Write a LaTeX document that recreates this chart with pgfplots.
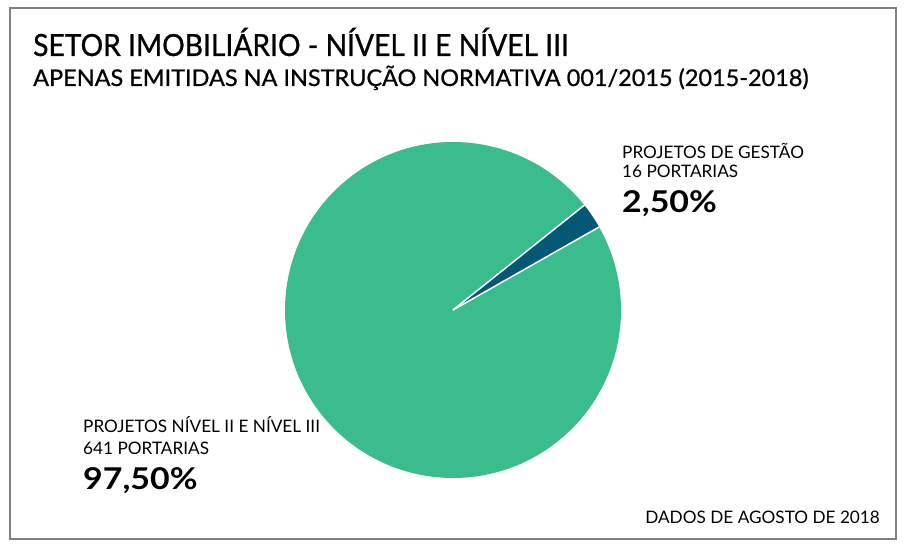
\documentclass[border=0pt]{standalone}
\usepackage{pgfplots}
\usepackage{pgfplotstable}
\pgfplotsset{compat=1.18}
\usepackage{fontspec}
\setmainfont{Lato}
\newfontfamily\titlefont[FakeStretch=0.925, FakeBold=0.8]{Lato}
\newfontfamily\subfont[FakeStretch=1.02, FakeBold=0.8]{Lato}
\newfontfamily\pctfont[FakeStretch=1.13]{Lato Bold}
\definecolor{pgreen}{RGB}{59,188,140}
\definecolor{pteal}{RGB}{4,88,118}
\definecolor{frame}{RGB}{128,128,128}
\pgfplotstableread{
label value
gestao 2.5
nivel 97.5
}\piedata
\pgfplotstablegetelem{0}{value}\of\piedata \let\valA\pgfplotsretval
\pgfplotstablegetelem{1}{value}\of\piedata \let\valB\pgfplotsretval
\begin{document}
\begin{tikzpicture}
\begin{axis}[width=905bp, height=548bp, scale only axis,
  xmin=0, xmax=905, ymin=0, ymax=548, axis lines=none, clip=false]
\fill[white] (axis cs:0,0) rectangle (axis cs:905,548);
\draw[frame, line width=2bp] (axis cs:10,9) rectangle (axis cs:896,540);
\pgfmathsetmacro\sA{29.6}
\pgfmathsetmacro\eA{\sA+3.6*\valA}
\pgfmathsetmacro\eB{\eA+3.6*\valB}
\fill[pteal] (axis cs:453,238) -- ++(\sA:168bp) arc[start angle=\sA, end angle=\eA, radius=168bp] -- cycle;
\fill[pgreen] (axis cs:453,238) -- ++(\eA:168bp) arc[start angle=\eA, end angle=\eB, radius=168bp] -- cycle;
\draw[white, line width=1.5bp] (axis cs:453,238) -- ++(\sA:169bp);
\draw[white, line width=1.5bp] (axis cs:453,238) -- ++(\eA:169bp);
\node[anchor=base west, inner sep=0pt] at (axis cs:33,492) {\titlefont\fontsize{30.5bp}{36bp}\selectfont SETOR IMOBILIÁRIO - NÍVEL II E NÍVEL III};
\node[anchor=base west, inner sep=0pt] at (axis cs:33,462) {\subfont\fontsize{23bp}{28bp}\selectfont APENAS EMITIDAS NA INSTRUÇÃO NORMATIVA 001/2015 (2015-2018)};
\node[anchor=base west, inner sep=0pt] at (axis cs:622,389) {\fontsize{17.2bp}{20bp}\selectfont PROJETOS DE GESTÃO};
\node[anchor=base west, inner sep=0pt] at (axis cs:622,370) {\fontsize{17.2bp}{20bp}\selectfont 16 PORTARIAS};
\node[anchor=base west, inner sep=0pt] at (axis cs:622,335) {\pctfont\fontsize{30bp}{34bp}\selectfont 2,50\%};
\node[anchor=base west, inner sep=0pt] at (axis cs:83,115) {\fontsize{17.2bp}{20bp}\selectfont PROJETOS NÍVEL II E NÍVEL III};
\node[anchor=base west, inner sep=0pt] at (axis cs:83,93) {\fontsize{17.2bp}{20bp}\selectfont 641 PORTARIAS};
\node[anchor=base west, inner sep=0pt] at (axis cs:83,58) {\pctfont\fontsize{30bp}{34bp}\selectfont 97,50\%};
\node[anchor=base east, inner sep=0pt] at (axis cs:880,25) {\fontsize{17.2bp}{20bp}\selectfont DADOS DE AGOSTO DE 2018};
\end{axis}
\end{tikzpicture}
\end{document}
